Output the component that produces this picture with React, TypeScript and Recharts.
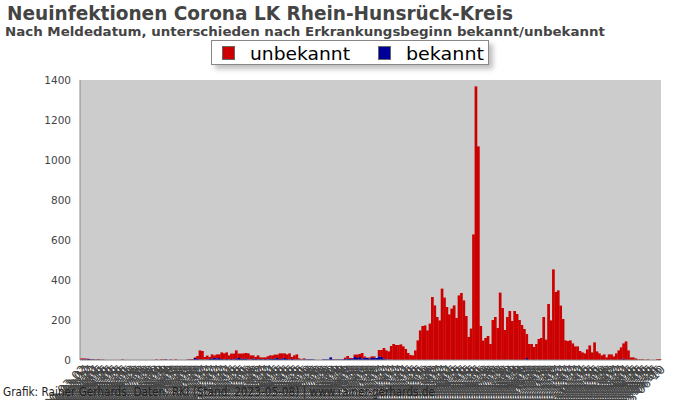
import { Bar, BarChart, CartesianGrid, XAxis, YAxis } from "recharts";

const unbekannt = [
  5, 5, 4, 0, 2, 0, 2, 0, 2, 2,
  0, 0, 0, 0, 0, 0, 0, 3, 0, 0,
  0, 0, 0, 0, 0, 0, 0, 0, 0, 0,
  0, 3, 0, 3, 2, 0, 0, 3, 0, 3,
  0, 0, 0, 0, 3, 2, 4, 3, 15, 45,
  42, 13, 19, 10, 20, 13, 20, 18, 33, 30,
  33, 20, 27, 29, 40, 22, 24, 28, 27, 30,
  20, 15, 10, 20, 8, 10, 8, 15, 15, 18,
  19, 17, 28, 25, 23, 23, 30, 10, 20, 25,
  5, 3, 5, 0, 0, 0, 1, 0, 0, 0,
  0, 0, 1, 0, 0, 3, 0, 1, 0, 7,
  12, 5, 2, 12, 17, 15, 27, 6, 2, 4,
  8, 5, 0, 32, 35, 52, 45, 40, 68, 80,
  75, 75, 78, 68, 55, 35, 25, 23, 48, 98,
  148, 170, 173, 148, 182, 315, 273, 215, 198, 357,
  312, 265, 228, 257, 273, 210, 323, 335, 298, 220,
  115, 157, 628, 1368, 1068, 170, 97, 110, 120, 80,
  200, 215, 160, 337, 260, 150, 212, 245, 195, 245,
  230, 200, 175, 155, 120, 80, 80, 65, 77, 105,
  110, 215, 102, 280, 198, 453, 340, 348, 272, 205,
  98, 95, 98, 83, 68, 68, 45, 38, 30, 53,
  73, 38, 88, 43, 33, 23, 28, 13, 28, 28,
  18, 33, 48, 63, 75, 93, 48, 13, 13, 8,
  3, 3, 3, 0, 3, 0, 0, 0, 5, 5,
];

const bekannt = [
  3, 3, 3, 6, 3, 3, 0, 3, 0, 0,
  0, 0, 0, 0, 0, 0, 0, 0, 0, 0,
  0, 0, 0, 0, 0, 0, 0, 0, 0, 0,
  0, 0, 0, 0, 1, 3, 0, 0, 0, 0,
  0, 0, 0, 0, 0, 2, 1, 10, 5, 3,
  3, 2, 3, 5, 8, 10, 8, 10, 5, 3,
  5, 3, 5, 3, 8, 10, 8, 5, 8, 3,
  3, 8, 5, 3, 5, 3, 5, 3, 8, 5,
  8, 10, 5, 8, 10, 5, 3, 5, 3, 3,
  3, 0, 3, 3, 3, 3, 2, 0, 0, 0,
  3, 3, 2, 13, 3, 0, 3, 2, 3, 5,
  8, 5, 8, 15, 10, 15, 8, 12, 10, 8,
  10, 13, 10, 18, 15, 8, 3, 3, 2, 0,
  0, 0, 0, 0, 0, 0, 0, 0, 0, 0,
  0, 0, 0, 0, 0, 0, 0, 0, 0, 0,
  0, 0, 0, 0, 0, 0, 0, 0, 0, 0,
  0, 0, 0, 0, 0, 0, 0, 0, 0, 0,
  0, 0, 0, 0, 0, 0, 3, 0, 0, 0,
  0, 0, 0, 0, 10, 0, 0, 0, 3, 0,
  0, 0, 0, 0, 0, 0, 0, 0, 0, 0,
  0, 0, 0, 0, 0, 0, 0, 0, 3, 0,
  0, 0, 0, 0, 0, 0, 0, 0, 0, 0,
  0, 0, 0, 0, 8, 0, 0, 0, 0, 0,
  0, 0, 0, 0, 0, 0, 0, 0, 0, 0,
];

// category labels: one reporting date per bar
const firstDay = Date.UTC(2020, 2, 2);
const stepDays = 5;
const dates = unbekannt.map((_, i) =>
  new Date(firstDay + i * stepDays * 86400000).toISOString().slice(0, 10)
);

const yTicks = [0, 200, 400, 600, 800, 1000, 1200, 1400];

const RED = "#cc0000";
const BLUE = "#000099";

const data = dates.map((date, i) => ({
  date,
  unbekannt: unbekannt[i],
  bekannt: bekannt[i],
}));

const font = "'DejaVu Sans', Verdana, sans-serif";

// bars are drawn a little wider so neighbours touch without seams
function SolidBar(props: any) {
  const { x, y, width, height, fill } = props;
  if (!height || height <= 0) return null;
  return <rect x={x} y={y} width={width + 0.7} height={height} fill={fill} />;
}

function LegendBox() {
  return (
    <div
      style={{
        position: "absolute",
        left: 211,
        top: 40,
        width: 276,
        height: 23,
        background: "#fff",
        border: "1px solid #888",
        boxShadow: "4px 4px 5px rgba(0,0,0,0.25)",
      }}
    >
      <svg width={276} height={23} style={{ display: "block" }}>
        <rect x={10.5} y={5.5} width={12} height={13} fill={RED} stroke="#666" />
        <text x={38} y={18.5} fontFamily={font} fontSize={18.5} fill="#000" textLength={100} lengthAdjust="spacingAndGlyphs">
          unbekannt
        </text>
        <rect x={166.5} y={5.5} width={12} height={13} fill={BLUE} stroke="#666" />
        <text x={194} y={18.5} fontFamily={font} fontSize={18.5} fill="#000" textLength={78} lengthAdjust="spacingAndGlyphs">
          bekannt
        </text>
      </svg>
    </div>
  );
}

export default function App() {
  return (
    <div style={{ position: "absolute", left: 0, top: 0, width: 700, height: 400, background: "#fff", overflow: "hidden" }}>
      <BarChart
        width={700}
        height={400}
        data={data}
        margin={{ top: 80, right: 39, bottom: 0, left: 0 }}
        barCategoryGap={0}
        barGap={0}
        style={{ fontFamily: font }}
      >
        <CartesianGrid fill="#cccccc" stroke="#cccccc" vertical={false} horizontal={false} />
        <XAxis
          dataKey="date"
          interval={0}
          height={40}
          angle={-45}
          textAnchor="end"
          tickLine={false}
          tickSize={0}
          tickMargin={4}
          axisLine={{ stroke: "#888" }}
          tick={{ fontSize: 12, fill: "#444" }}
        />
        <YAxis
          width={80}
          domain={[0, 1400]}
          ticks={yTicks}
          tickLine={false}
          tickSize={0}
          tickMargin={9}
          axisLine={{ stroke: "#888" }}
          tick={{ fontSize: 10.5, fill: "#444" }}
        />
        <Bar dataKey="bekannt" stackId="a" fill={BLUE} shape={SolidBar} isAnimationActive={false} />
        <Bar dataKey="unbekannt" stackId="a" fill={RED} shape={SolidBar} isAnimationActive={false} />
      </BarChart>
      <svg width={700} height={400} style={{ position: "absolute", left: 0, top: 0, pointerEvents: "none" }}>
        <text x={7} y={19.5} fontFamily={font} fontWeight="bold" fontSize={19} fill="#444" textLength={506} lengthAdjust="spacingAndGlyphs">
          Neuinfektionen Corona LK Rhein-Hunsrück-Kreis
        </text>
        <text x={5} y={36} fontFamily={font} fontWeight="bold" fontSize={13} fill="#444" textLength={600} lengthAdjust="spacingAndGlyphs">
          Nach Meldedatum, unterschieden nach Erkrankungsbeginn bekannt/unbekannt
        </text>
        <text x={3} y={396} fontFamily={font} fontSize={11.5} fill="#222" textLength={432} lengthAdjust="spacingAndGlyphs">
          Grafik: Rainer Gerhards. Daten: RKI (Stand: 2023-05-08) | www.rainer-gerhards.de
        </text>
      </svg>
      <LegendBox />
    </div>
  );
}
